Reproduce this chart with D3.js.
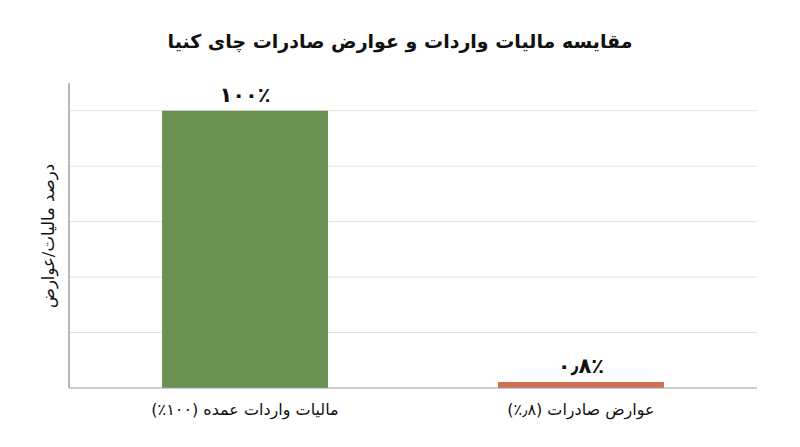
<!DOCTYPE html>
<html lang="fa">
<head>
<meta charset="utf-8">
<script src="https://cdn.jsdelivr.net/npm/d3@7"></script>
<style>
  body { margin: 0; background: #fff; }
  svg text { font-family: "DejaVu Sans", "Noto Sans", sans-serif; fill: #111; }
</style>
</head>
<body>
<svg id="chart" width="800" height="447"></svg>
<script>
const categories = ["مالیات واردات عمده (۱۰۰٪)", "عوارض صادرات (٫۸٪)"];
const values = [100, 0.8];
const valueLabels = ["۱۰۰٪", "۰٫۸٪"];
const barColors = ["#6b9152", "#d26e52"];
const yTicks = [0, 20, 40, 60, 80, 100];

const svg = d3.select("#chart");
const plotLeft = 69, plotRight = 757, plotTop = 83, plotBottom = 388;

const x = d3.scaleBand()
  .domain(categories)
  .range([plotLeft, plotRight])
  .paddingInner(0.506)
  .paddingOuter(0.277);

const y = d3.scaleLinear()
  .domain([0, 110])
  .range([plotBottom, plotTop]);

// gridlines
svg.append("g")
  .selectAll("line")
  .data(yTicks.slice(1))
  .enter()
  .append("line")
  .attr("x1", plotLeft)
  .attr("x2", plotRight)
  .attr("y1", d => y(d))
  .attr("y2", d => y(d))
  .attr("stroke", "#e2e2e2")
  .attr("stroke-width", 1);

// bars (tiny values kept visible)
svg.append("g")
  .selectAll("rect")
  .data(values)
  .enter()
  .append("rect")
  .attr("x", (d, i) => x(categories[i]))
  .attr("width", x.bandwidth())
  .attr("y", d => Math.min(y(d), plotBottom - 6))
  .attr("height", d => Math.max(plotBottom - y(d), 6))
  .attr("fill", (d, i) => barColors[i]);

// axes lines
svg.append("line")
  .attr("x1", plotLeft).attr("x2", plotLeft)
  .attr("y1", plotTop).attr("y2", plotBottom)
  .attr("stroke", "#888").attr("stroke-width", 1.2);

svg.append("line")
  .attr("x1", plotLeft).attr("x2", plotRight)
  .attr("y1", plotBottom).attr("y2", plotBottom)
  .attr("stroke", "#999").attr("stroke-width", 1.2);

// value labels
svg.append("g")
  .selectAll("text")
  .data(values)
  .enter()
  .append("text")
  .attr("x", (d, i) => x(categories[i]) + x.bandwidth() / 2)
  .attr("y", d => Math.min(y(d), plotBottom - 6) - 9)
  .attr("text-anchor", "middle")
  .attr("font-size", 21)
  .attr("font-weight", "bold")
  .text((d, i) => valueLabels[i]);

// category labels
svg.append("g")
  .selectAll("text")
  .data(categories)
  .enter()
  .append("text")
  .attr("x", d => x(d) + x.bandwidth() / 2)
  .attr("y", 415)
  .attr("text-anchor", "middle")
  .attr("direction", "rtl")
  .attr("font-size", 16)
  .text(d => d);

// y label
svg.append("text")
  .attr("transform", "translate(54,236) rotate(-90)")
  .attr("text-anchor", "middle")
  .attr("direction", "rtl")
  .attr("font-size", 16.5)
  .text("درصد مالیات/عوارض");

// title
svg.append("text")
  .attr("x", 400)
  .attr("y", 48)
  .attr("text-anchor", "middle")
  .attr("direction", "rtl")
  .attr("font-size", 19)
  .attr("font-weight", "bold")
  .text("مقایسه مالیات واردات و عوارض صادرات چای کنیا");
</script>
</body>
</html>
